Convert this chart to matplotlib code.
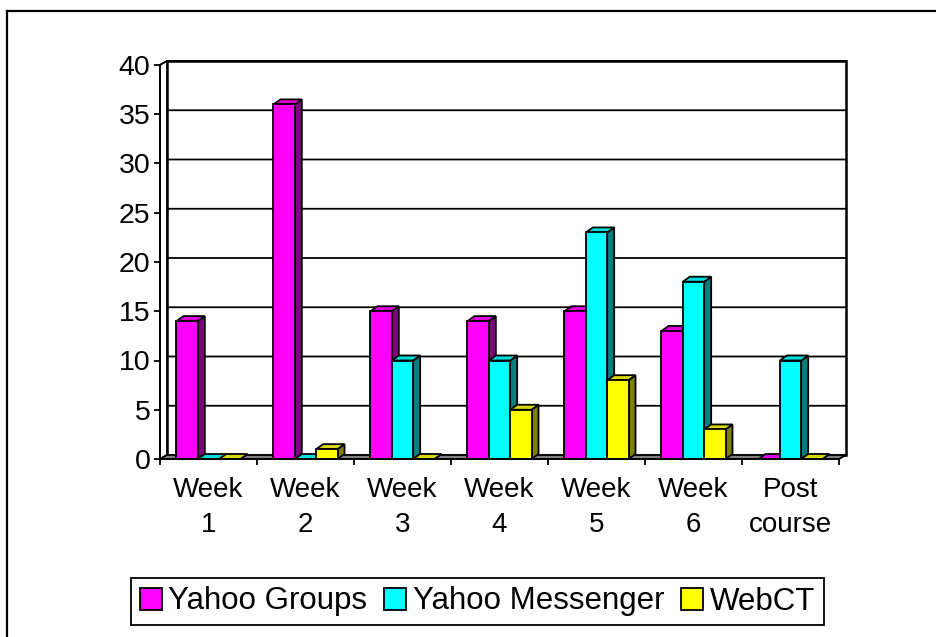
import matplotlib
matplotlib.use("Agg")
import matplotlib.pyplot as plt
from matplotlib.patches import Polygon, Patch
from matplotlib.lines import Line2D

categories = ["Week\n1", "Week\n2", "Week\n3", "Week\n4", "Week\n5", "Week\n6", "Post\ncourse"]
yahoo_groups = [14, 36, 15, 14, 15, 13, 0]
yahoo_messenger = [0, 0, 10, 10, 23, 18, 10]
webct = [0, 1, 0, 5, 8, 3, 0]
series = [yahoo_groups, yahoo_messenger, webct]
series_names = ["Yahoo Groups", "Yahoo Messenger", "WebCT"]
y_ticks = [0, 5, 10, 15, 20, 25, 30, 35, 40]

front_colors = ["#FF00FF", "#00FFFF", "#FFFF00"]
side_colors = ["#800080", "#008080", "#808000"]
top_colors = ["#E000E0", "#00DDDD", "#D8D800"]

plt.rcParams['font.family'] = ['Liberation Sans', 'DejaVu Sans']

W, H = 937, 637
fig = plt.figure(figsize=(W / 100, H / 100), dpi=100)

# front plane of the 3d box, in pixels
x0, x1, yb, yt = 160, 839, 459, 65
ax = fig.add_axes([x0 / W, 1 - yb / H, (x1 - x0) / W, (yb - yt) / H])
n = len(categories)
ymax = y_ticks[-1]
ax.set_xlim(-0.5, n - 0.5)
ax.set_ylim(0, ymax)

# depth offsets converted to data units
ux = n / (x1 - x0)
uy = ymax / (yb - yt)
wdx, wdy = 7 * ux, 4 * uy
bdx, bdy = 7 * ux, 5 * uy

lw = 1.3
xl, xr = -0.5, n - 0.5

# walls and floor
ax.add_patch(Polygon([(xl + wdx, wdy), (xr + wdx, wdy), (xr + wdx, ymax + wdy), (xl + wdx, ymax + wdy)],
                     closed=True, facecolor="white", edgecolor="black", lw=lw * 1.4, zorder=0, clip_on=False))
ax.add_patch(Polygon([(xl, 0), (xl, ymax), (xl + wdx, ymax + wdy), (xl + wdx, wdy)],
                     closed=True, facecolor="white", edgecolor="black", lw=lw, zorder=0.5, clip_on=False))
ax.add_patch(Polygon([(xl, 0), (xr, 0), (xr + wdx, wdy), (xl + wdx, wdy)],
                     closed=True, facecolor="#808080", edgecolor="black", lw=lw, zorder=0.6, clip_on=False))
for v in y_ticks[1:]:
    ax.plot([xl, xl + wdx, xr + wdx], [v, v + wdy, v + wdy], color="black", lw=lw, zorder=0.4, clip_on=False)

# bars: front face through ax.bar, side and top faces offset in depth
bw = 0.22
offsets = [-bw, 0, bw]
z = 1
for i in range(n):
    for j in range(3):
        v = series[j][i]
        xc = i + offsets[j]
        a, b = xc - bw / 2, xc + bw / 2
        side = Polygon([(b, 0), (b + bdx, bdy), (b + bdx, v + bdy), (b, v)], closed=True,
                       facecolor=side_colors[j], edgecolor="black", lw=lw, zorder=z, clip_on=False)
        top = Polygon([(a, v), (a + bdx, v + bdy), (b + bdx, v + bdy), (b, v)], closed=True,
                      facecolor=top_colors[j], edgecolor="black", lw=lw, zorder=z, clip_on=False)
        ax.add_patch(side)
        ax.add_patch(top)
        bars = ax.bar([xc], [v], width=bw, color=front_colors[j], edgecolor="black", lw=lw, zorder=z + 0.5)
        for r in bars:
            r.set_clip_on(False)
        z += 1

# axes
for s in ["top", "right"]:
    ax.spines[s].set_visible(False)
ax.spines["left"].set_linewidth(lw)
ax.spines["bottom"].set_linewidth(lw)
ax.spines["bottom"].set_zorder(50)
ax.set_facecolor("none")
ax.set_yticks(y_ticks)
ax.tick_params(axis="y", direction="out", length=4, width=lw, pad=3, labelsize=20.5)
ax.set_xticks(range(n))
ax.set_xticklabels(categories, linespacing=1.45)
ax.set_xticks([k - 0.5 for k in range(n + 1)], minor=True)
ax.tick_params(axis="x", which="major", length=0, pad=13, labelsize=20)
ax.tick_params(axis="x", which="minor", direction="out", length=4.5, width=lw)

# chart frame, cut at the right and bottom of the picture
fig.add_artist(Line2D([7 / W, 7 / W], [0, 1 - 11 / H], color="black", lw=1.6))
fig.add_artist(Line2D([7 / W, 1], [1 - 11 / H, 1 - 11 / H], color="black", lw=1.6))

handles = [Patch(facecolor=c, edgecolor="black", lw=lw) for c in front_colors]
leg = fig.legend(handles, series_names, ncol=3, loc="center",
                 bbox_to_anchor=(477.5 / W, 1 - 601.5 / H), fontsize=22.5,
                 frameon=True, fancybox=False, edgecolor="black", framealpha=1,
                 handlelength=0.7, handleheight=0.7, handletextpad=0.2,
                 columnspacing=0.55, borderpad=0.28)
leg.get_frame().set_linewidth(lw)

fig.savefig("out.png", dpi=100)
